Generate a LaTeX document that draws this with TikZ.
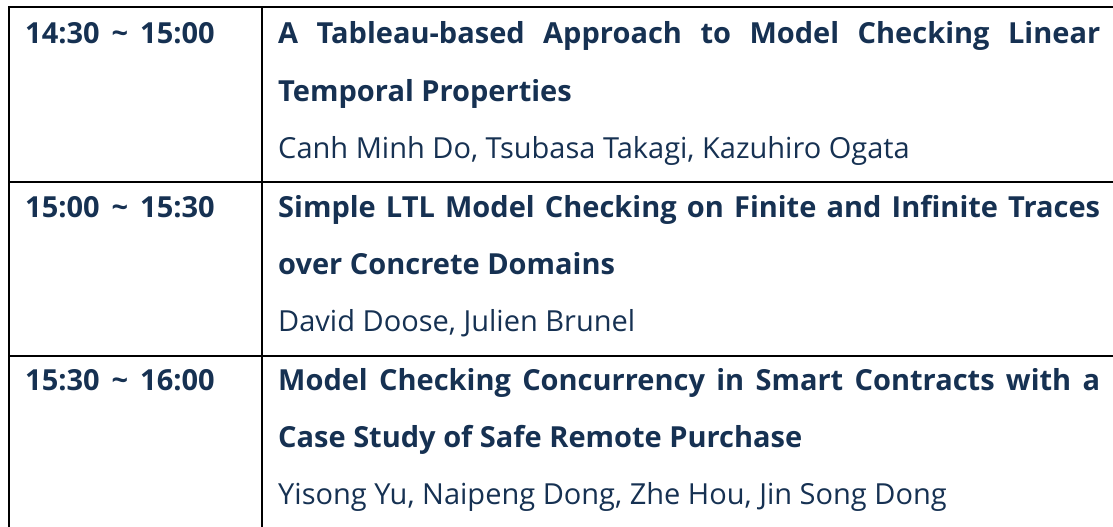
\documentclass[tikz,border=0pt]{standalone}
\usepackage{fontspec}
\setmainfont{Open Sans}
\usepackage{xcolor}
\usetikzlibrary{positioning}
\definecolor{navy}{RGB}{22,49,82}
\newcommand{\upto}{\hspace{12pt}\textasciitilde\hspace{12pt}}

\begin{document}
\begin{tikzpicture}[x=1pt, y=-1pt,
  every node/.style = {anchor=base west, inner sep=0pt, text=navy,
    font=\fontsize{29}{34}\selectfont},
  slot/.style = {font=\fontsize{29}{34}\selectfont\bfseries},
  title/.style = {font=\fontsize{29}{34}\selectfont\bfseries},
  rule/.style = {line width=2pt, black}
]
\useasboundingbox (0,0) rectangle (1113,527);
% table rules
\draw[rule] (1113,7) -- (9,7) -- (9,527);
\draw[rule] (262,7) -- (262,527);
\draw[rule] (9,182) -- (1113,182);
\draw[rule] (9,356) -- (1113,356);

% first talk
\node[slot] (time1) at (25,44) {14:30\upto15:00};
\node[title] (title1a) at (278,44) {\makebox[822pt][s]{A Tableau-based Approach to Model Checking Linear}};
\node[title] (title1b) at (278,101) {Temporal Properties};
\node (auth1) at (278,158) {Canh Minh Do, Tsubasa Takagi, Kazuhiro Ogata};

% second talk
\node[slot] (time2) at (25,217) {15:00\upto15:30};
\node[title] (title2a) at (278,217) {\makebox[822pt][s]{Simple LTL Model Checking on Finite and Infinite Traces}};
\node[title] (title2b) at (278,274) {over Concrete Domains};
\node (auth2) at (278,331) {David Doose, Julien Brunel};

% third talk
\node[slot] (time3) at (25,390) {15:30\upto16:00};
\node[title] (title3a) at (278,390) {\makebox[822pt][s]{Model Checking Concurrency in Smart Contracts with a}};
\node[title] (title3b) at (278,447) {Case Study of Safe Remote Purchase};
\node (auth3) at (278,504) {Yisong Yu, Naipeng Dong, Zhe Hou, Jin Song Dong};
\end{tikzpicture}
\end{document}
